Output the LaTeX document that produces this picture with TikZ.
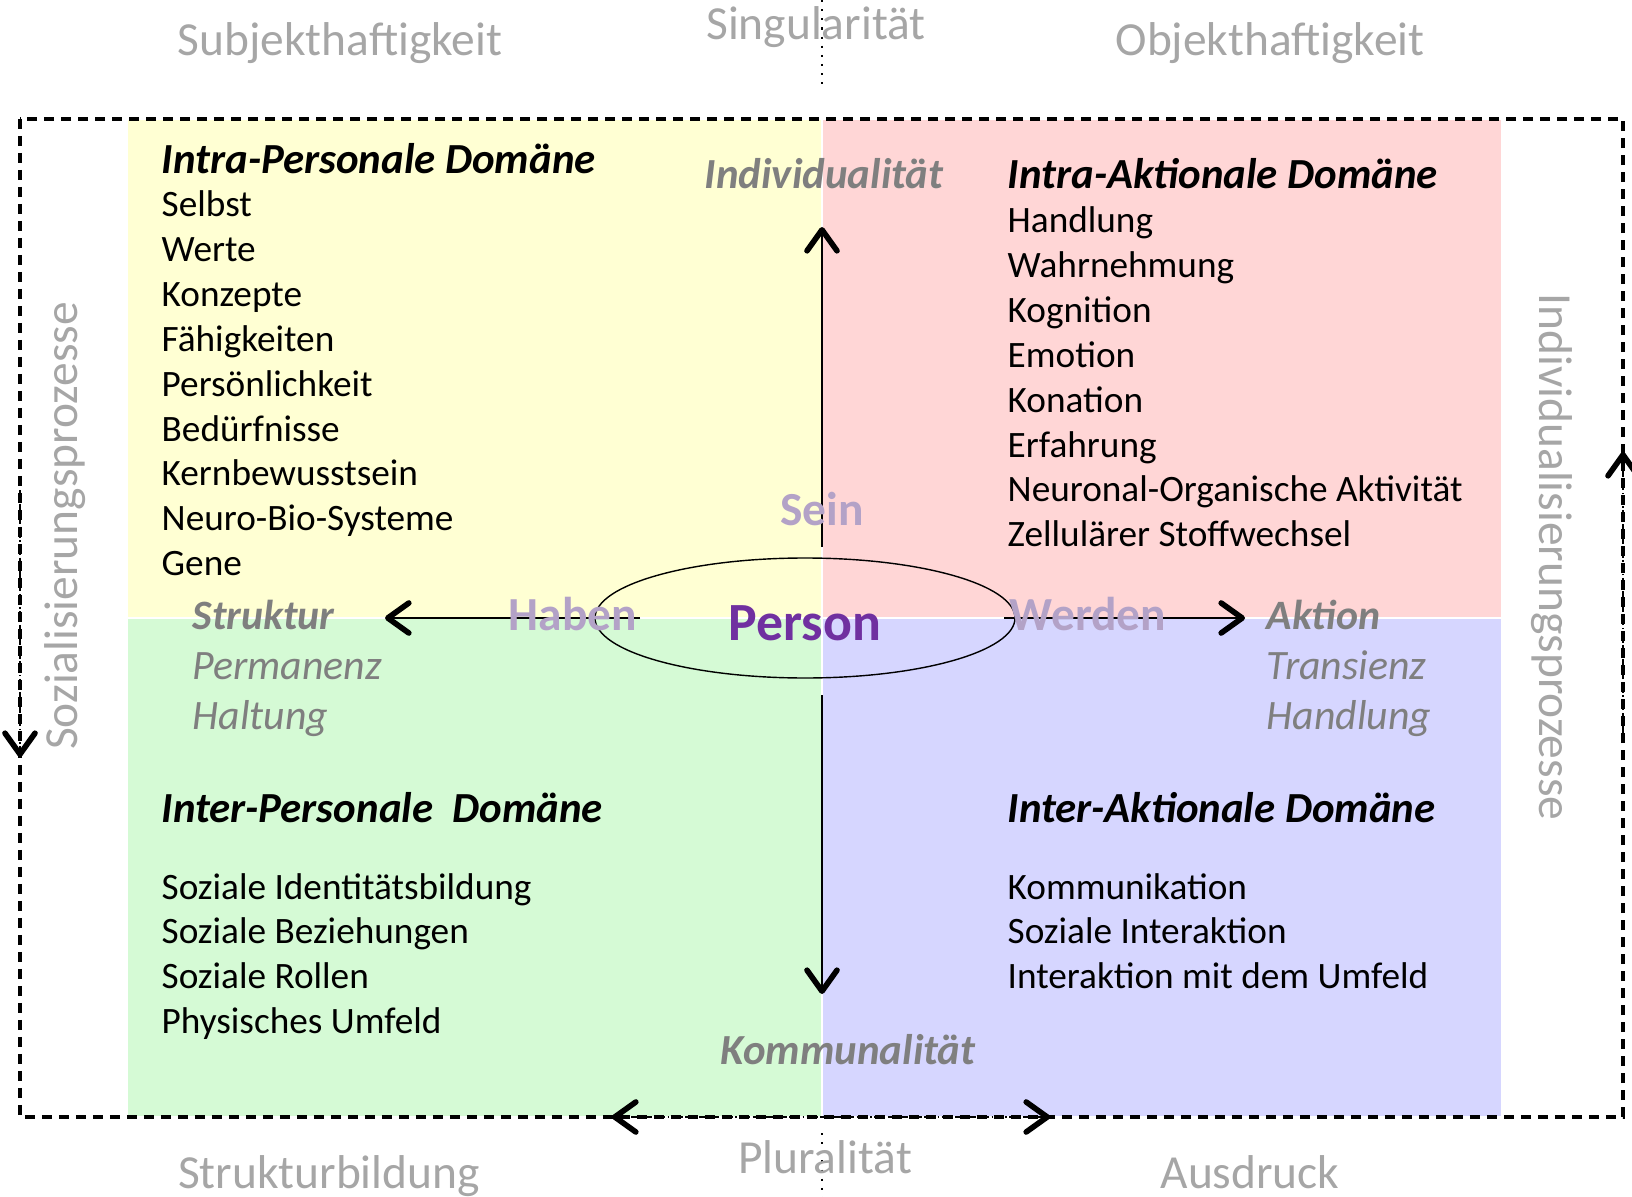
\documentclass[tikz,border=0pt]{standalone}
\usepackage{fontspec}
\setmainfont{Carlito}
\usetikzlibrary{arrows.meta,shapes.geometric}

\definecolor{quadyellow}{HTML}{FFFFD3}
\definecolor{quadred}{HTML}{FFD6D6}
\definecolor{quadgreen}{HTML}{D5FAD5}
\definecolor{quadblue}{HTML}{D6D6FF}
\definecolor{axisgray}{HTML}{7F7F7F}
\definecolor{outergray}{HTML}{A6A6A6}
\definecolor{verbpurple}{HTML}{B3A2C7}
\definecolor{personpurple}{HTML}{7030A0}

\tikzset{chevron/.tip={Straight Barb[length=2.1mm,width=3mm,line width=1.6pt,round]}}

\begin{document}
\begin{tikzpicture}[x=0.1mm,y=-0.1mm,
    quad/.style={draw=white,line width=0.3pt},
    title/.style={anchor=base west,inner sep=0,font=\fontsize{12.2}{14.6}\selectfont\bfseries\itshape},
    items/.style={anchor=base west,inner sep=0,font=\fontsize{10.6}{12.7}\selectfont},
    pole/.style={anchor=base,inner sep=0,text=axisgray,font=\fontsize{12.2}{14.6}\selectfont\bfseries\itshape},
    quality/.style={anchor=base west,inner sep=0,text=axisgray,font=\fontsize{11.9}{14.3}\selectfont\itshape},
    outer/.style={inner sep=0,text=outergray,font=\fontsize{13.5}{16}\selectfont},
    verb/.style={anchor=base,inner sep=0,text=verbpurple,font=\fontsize{13.5}{16}\selectfont\bfseries},
    axis/.style={line width=0.5pt,-chevron},
    process/.style={line width=0.7pt,dash pattern=on 0.7mm off 0.25mm on 0.15mm off 0.25mm},
    border/.style={line width=1pt,dash pattern=on 1mm off 0.7mm}]
  % \draw[help lines,step=100](0,0) grid (1632,1197);
  \useasboundingbox (0,0) rectangle (1632,1197);

  % quadrants
  \filldraw[quad,fill=quadyellow] (127,119) rectangle (822,618);
  \filldraw[quad,fill=quadred] (822,119) rectangle (1502,618);
  \filldraw[quad,fill=quadgreen] (127,618) rectangle (822,1117);
  \filldraw[quad,fill=quadblue] (822,618) rectangle (1502,1117);
  \draw[border] (20,119) rectangle (1623,1117);
  \draw[dotted,line width=0.6pt] (822,0) -- (822,88);
  \draw[dotted,line width=0.6pt] (822,1133) -- (822,1197);

  % outer labels
  \node[outer,anchor=base] (subjekt) at (340,56) {Subjekthaftigkeit};
  \node[outer,anchor=base] (singular) at (816,40) {Singularität};
  \node[outer,anchor=base] (objekt) at (1270,56) {Objekthaftigkeit};
  \node[outer,anchor=base] (strukturbildung) at (329,1188) {Strukturbildung};
  \node[outer,anchor=base] (plural) at (825,1173) {Pluralität};
  \node[outer,anchor=base] (ausdruck) at (1250,1188) {Ausdruck};
  \node[outer,rotate=90] (sozial) at (65,526) {Sozialisierungsprozesse};
  \node[outer,rotate=-90] (individual) at (1552,557) {Individualisierungsprozesse};

  % domains
  \node[title] (intrapers) at (161,173) {Intra-Personale Domäne};
  \foreach \t [count=\i from 0] in {Selbst,Werte,Konzepte,Fähigkeiten,Persönlichkeit,Bedürfnisse,Kernbewusstsein,Neuro-Bio-Systeme,Gene}
    \node[items] (intrapers-\i) at (161,217+44.8*\i) {\t};
  \node[title] (intraakt) at (1007,189) {Intra-Aktionale Domäne};
  \foreach \t [count=\i from 0] in {Handlung,Wahrnehmung,Kognition,Emotion,Konation,Erfahrung,Neuronal-Organische Aktivität,Zellulärer Stoffwechsel}
    \node[items] (intraakt-\i) at (1007,233+44.8*\i) {\t};
  \node[title] (interpers) at (161,822) {Inter-Personale \ Domäne};
  \foreach \t [count=\i from 0] in {Soziale Identitätsbildung,Soziale Beziehungen,Soziale Rollen,Physisches Umfeld}
    \node[items] (interpers-\i) at (161,899+44.8*\i) {\t};
  \node[title] (interakt) at (1007,822) {Inter-Aktionale Domäne};
  \foreach \t [count=\i from 0] in {Kommunikation,Soziale Interaktion,Interaktion mit dem Umfeld}
    \node[items] (interakt-\i) at (1007,899+44.8*\i) {\t};

  % poles
  \node[pole] (individualitaet) at (824,189) {Individualität};
  \node[pole] (kommunalitaet) at (848,1064) {Kommunalität};
  \node[quality,font=\fontsize{11.9}{14.3}\selectfont\bfseries\itshape] (struktur) at (192,629) {Struktur};
  \node[quality] (permanenz) at (192,679) {Permanenz};
  \node[quality] (haltung) at (192,729) {Haltung};
  \node[quality,font=\fontsize{11.9}{14.3}\selectfont\bfseries\itshape] (aktion) at (1266,629) {Aktion};
  \node[quality] (transienz) at (1266,679) {Transienz};
  \node[quality] (handlung) at (1266,729) {Handlung};

  % person
  \node[draw,ellipse,line width=0.4pt,minimum width=42mm,minimum height=12mm,inner sep=0,
    text height=4.4mm,text depth=0pt,text=personpurple,font=\fontsize{15.3}{18}\selectfont\bfseries] (person) at (805,618) {Person};
  \coordinate (sein end) at (822,547);
  \coordinate (indiv tip) at (822,227);
  \coordinate (komm start) at (822,695);
  \coordinate (komm tip) at (822,994);
  \coordinate (haben end) at (640,618);
  \coordinate (struktur tip) at (385,618);
  \coordinate (werden end) at (1004,618);
  \coordinate (aktion tip) at (1245,618);
  \draw[axis] (sein end) -- (indiv tip);
  \draw[axis] (komm start) -- (komm tip);
  \draw[axis] (haben end) -- (struktur tip);
  \draw[axis] (werden end) -- (aktion tip);
  \node[verb] (sein) at (822,525) {Sein};
  \node[verb] (haben) at (573,630) {Haben};
  \node[verb] (werden) at (1088,630) {Werden};

  % processes
  \coordinate (soz start) at (20,490);
  \coordinate (soz tip) at (20,757);
  \coordinate (ind start) at (1623,733);
  \coordinate (ind tip) at (1623,452);
  \coordinate (plural left) at (612,1117);
  \coordinate (plural right) at (1050,1117);
  \draw[process,-chevron] (soz start) -- (soz tip);
  \draw[process,-chevron] (ind start) -- (ind tip);
  \draw[process,chevron-chevron] (plural left) -- (plural right);
\end{tikzpicture}
\end{document}
